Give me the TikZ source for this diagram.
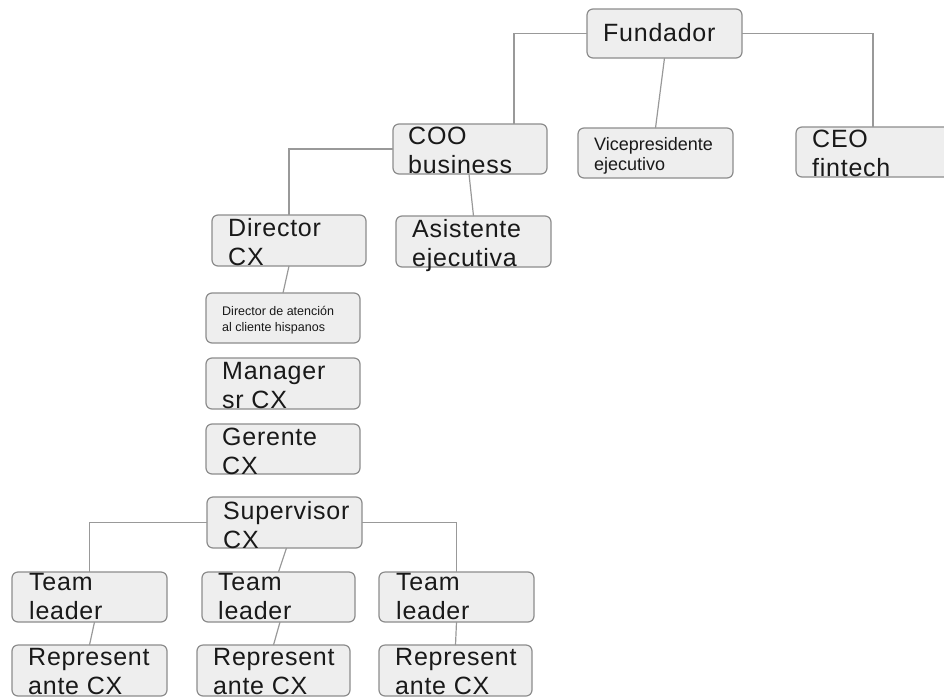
\documentclass[tikz,border=0pt]{standalone}
\usepackage{fontspec}
\setmainfont{Liberation Sans}
\newfontfamily\boxfont[LetterSpace=3]{Liberation Sans}
\definecolor{boxfill}{HTML}{EEEEEE}
\definecolor{boxline}{HTML}{8C8C8C}
\definecolor{linkgray}{HTML}{999999}
\begin{document}
\begin{tikzpicture}[x=1pt, y=-1pt,
  box/.style={draw=boxline, line width=1.2pt, rounded corners=6pt, fill=boxfill, minimum width=154pt, minimum height=50pt, inner sep=0pt, outer sep=0pt},
  txt/.style={inner sep=0pt, anchor=north west, align=left, text=black!90, font=\boxfont\fontsize{25}{29}\selectfont},
  small/.style={txt, font=\fontsize{18}{20}\selectfont},
  tiny/.style={txt, font=\fontsize{12.5}{16}\selectfont},
  link/.style={draw=linkgray, line width=1.2pt}]
  \useasboundingbox (0,0) rectangle (944,699);
  \clip (0,0) rectangle (944,699);

  % Top level
  \node[box, minimum width=155pt, minimum height=49pt] (fund) at (664.5, 33.5) {};
  \node[txt] (fundT) at ([shift={(16,14)}]fund.north west) {Fundador};

  % Second level
  \node[box] (coo) at (470, 149) {};
  \node[txt] (cooT) at ([shift={(15,3)}]coo.north west) {COO\\business};
  \node[box, minimum width=155pt] (vice) at (655.5, 153) {};
  \node[small] (viceT) at ([shift={(16,9)}]vice.north west) {Vicepresidente\\ejecutivo};
  \node[box, minimum width=155pt] (ceo) at (873.5, 152) {};
  \node[txt] (ceoT) at ([shift={(16,3)}]ceo.north west) {CEO\\fintech};

  % Under COO
  \node[box, minimum height=51pt] (dircx) at (289, 240.5) {};
  \node[txt] (dircxT) at ([shift={(16,3)}]dircx.north west) {Director\\CX};
  \node[box, minimum width=155pt, minimum height=51pt] (asist) at (473.5, 241.5) {};
  \node[txt] (asistT) at ([shift={(16,3)}]asist.north west) {Asistente\\ejecutiva};

  % CX column
  \node[box] (dirat) at (283, 318) {};
  \node[tiny] (diratT) at ([shift={(16,13)}]dirat.north west) {Director de atención\\al cliente hispanos};
  \node[box, minimum height=51pt] (mgr) at (283, 383.5) {};
  \node[txt] (mgrT) at ([shift={(16,4)}]mgr.north west) {Manager\\sr CX};
  \node[box] (ger) at (283, 449) {};
  \node[txt] (gerT) at ([shift={(16,4)}]ger.north west) {Gerente\\CX};
  \node[box, minimum width=155pt, minimum height=51pt] (sup) at (284.5, 522.5) {};
  \node[txt] (supT) at ([shift={(16,4)}]sup.north west) {Supervisor\\CX};

  % Team leaders
  \node[box, minimum width=155pt] (tlA) at (89.5, 597) {};
  \node[txt] (tlAT) at ([shift={(17,1)}]tlA.north west) {Team\\leader};
  \node[box, minimum width=153pt] (tlB) at (278.5, 597) {};
  \node[txt] (tlBT) at ([shift={(16,1)}]tlB.north west) {Team\\leader};
  \node[box, minimum width=155pt] (tlC) at (456.5, 597) {};
  \node[txt] (tlCT) at ([shift={(17,1)}]tlC.north west) {Team\\leader};

  % Representatives
  \node[box, minimum width=155pt, minimum height=51pt] (repA) at (89.5, 670.5) {};
  \node[txt] (repAT) at ([shift={(16,3)}]repA.north west) {Represent\\ante CX};
  \node[box, minimum width=153pt, minimum height=51pt] (repB) at (273.5, 670.5) {};
  \node[txt] (repBT) at ([shift={(16,3)}]repB.north west) {Represent\\ante CX};
  \node[box, minimum width=153pt, minimum height=51pt] (repC) at (455.5, 670.5) {};
  \node[txt] (repCT) at ([shift={(16,3)}]repC.north west) {Represent\\ante CX};

  % Connectors
  \draw[link] (fund.west) -| ([xshift=44pt]coo.north);
  \draw[link] (fund.east) -| ([xshift=-0.5pt]ceo.north);
  \draw[link] (fund.south) -- (vice.north);
  \draw[link] (coo.west) -| (dircx.north);
  \draw[link] ([xshift=-1pt]coo.south) -- (asist.north);
  \draw[link] (dircx.south) -- (dirat.north);
  \draw[link] (sup.west) -| (tlA.north);
  \draw[link] (sup.east) -| (tlC.north);
  \draw[link] ([xshift=2pt]sup.south) -- (tlB.north);
  \draw[link] ([xshift=5pt]tlA.south) -- (repA.north);
  \draw[link] ([xshift=1.5pt]tlB.south) -- (repB.north);
  \draw[link] (tlC.south) -- (repC.north);
\end{tikzpicture}
\end{document}
